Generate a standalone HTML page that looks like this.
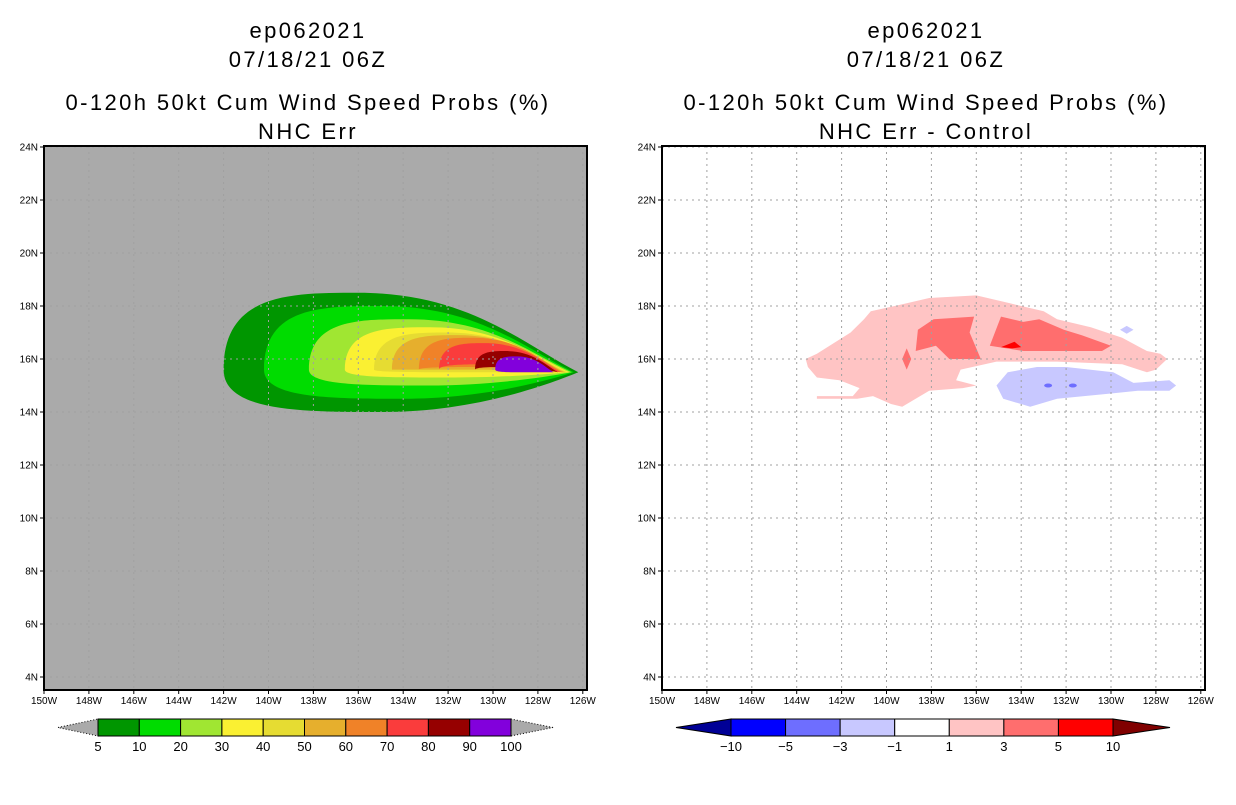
<!DOCTYPE html>
<html><head><meta charset="utf-8"><style>
body{margin:0;background:#fff;width:1236px;height:800px;overflow:hidden;font-family:"Liberation Sans",sans-serif}
svg text{font-family:"Liberation Sans",sans-serif}
</style></head><body>
<svg id="s" width="1236" height="800"></svg>
<script>
// ---- data ----
const probLevels=[5,10,20,30,40,50,60,70,80,90];
const probColors=['#009600','#00dc00','#a0e632','#faf032','#e6dc32','#e6af2d','#f08228','#fa3c3c','#960000','#8200dc'];
const probWestLon=[-142.0,-140.2,-138.2,-136.6,-135.3,-134.5,-133.3,-132.4,-130.8,-129.9];
const probEastLon=[-126.2,-126.4,-126.5,-126.6,-126.7,-126.8,-126.9,-127.0,-127.1,-127.3];
const probNorthLat=[18.5,18.0,17.5,17.2,17.0,16.9,16.8,16.6,16.3,16.1];
const probSouthLat=[14.0,14.5,15.0,15.3,15.5,15.6,15.7,15.8,15.7,15.5];
const tipLat=15.5;
const diffLevels=[-10,-5,-3,-1,1,3,5,10];
const diffColors=['#000096','#0000ff','#6e6eff','#c8c8ff','#ffffff','#ffc4c4','#ff6e6e','#ff0000','#800000'];
const pinkLon=[-143.6,-143.1,-141.6,-141.0,-140.7,-139.1,-138.1,-136.0,-134.5,-133.0,-132.4,-130.9,-129.5,-128.4,-127.8,-127.5,-128.0,-128.4,-129.5,-132.4,-135.1,-136.7,-136.9,-136.0,-136.6,-138.1,-139.3,-139.8,-140.6,-141.3,-143.1,-143.1,-141.5,-141.2,-142.1,-143.1,-143.5];
const pinkLat=[16.0,16.2,17.0,17.5,17.8,18.1,18.3,18.4,18.1,17.8,17.5,17.2,16.8,16.3,16.2,16.0,15.6,15.5,15.8,15.9,15.9,15.6,15.2,15.0,14.9,14.8,14.2,14.3,14.6,14.5,14.5,14.6,14.6,14.9,15.2,15.3,15.7];
const redALon=[-138.6,-137.9,-136.1,-136.3,-135.8,-137.2,-137.8,-138.7];
const redALat=[17.1,17.5,17.6,17.0,16.0,16.0,16.5,16.3];
const redDiamondLon=[-139.3,-139.1,-138.9,-139.1];
const redDiamondLat=[16.0,16.4,16.0,15.6];
const redBLon=[-134.9,-133.9,-133.2,-132.1,-131.3,-130.0,-130.4,-132.4,-133.9,-135.4];
const redBLat=[17.6,17.4,17.5,17.1,16.9,16.5,16.3,16.3,16.3,16.5];
const brightRedLon=[-134.9,-134.3,-134.0,-134.4];
const brightRedLat=[16.45,16.65,16.45,16.4];
const blueLon=[-135.1,-134.6,-133.3,-132.0,-129.9,-129.0,-127.4,-127.1,-127.4,-128.8,-130.0,-132.4,-133.6,-134.8];
const blueLat=[15.0,15.5,15.7,15.7,15.5,15.1,15.2,15.0,14.8,14.8,14.7,14.5,14.2,14.5];
const blueSmallLon=[-129.6,-129.3,-129.0,-129.3];
const blueSmallLat=[17.1,17.25,17.1,16.95];
const blueDotLon=[-132.8,-131.7];
const blueDotLat=[15.0,15.0];
const lonTicks=[-150,-148,-146,-144,-142,-140,-138,-136,-134,-132,-130,-128,-126];
const latTicks=[4,6,8,10,12,14,16,18,20,22,24];

const NS='http://www.w3.org/2000/svg';
const svg=document.getElementById('s');
function el(tag,attrs,parent){const e=document.createElementNS(NS,tag);for(const k in attrs)e.setAttribute(k,attrs[k]);(parent||svg).appendChild(e);return e;}
const PW=543,PT=146,PB=690;
function xs(x0){return lon=>x0+(lon+150)*22.45;}
function ys(lat){return 359+(16-lat)*26.5;}
function poly(g,X,lons,lats,fill){return el('polygon',{points:lons.map((l,i)=>X(l).toFixed(1)+','+ys(lats[i]).toFixed(1)).join(' '),fill:fill},g);}

function frame(x0,bg,name){
  const X=xs(x0);
  const g=el('g',{});
  
  
  el('rect',{x:x0,y:PT,width:PW,height:PB-PT,fill:bg},g);
  return {g,X};
}
function grid(p,x0){
  const gg=el('g',{},p.g);
  
  
  lonTicks.forEach(l=>{const x=p.X(l);if(x>x0+1&&x<x0+PW-1)el('line',{x1:x,x2:x,y1:PT,y2:PB,stroke:'#a0a0a0','stroke-dasharray':'2,4'},gg);});
  latTicks.forEach(l=>{const y=ys(l);el('line',{x1:x0,x2:x0+PW,y1:y,y2:y,stroke:'#a0a0a0','stroke-dasharray':'2,4'},gg);});
}
function axes(p,x0){
  el('rect',{x:x0,y:PT,width:PW,height:PB-PT,fill:'none',stroke:'#000','stroke-width':2},p.g);
  lonTicks.forEach(l=>{const x=p.X(l);el('line',{x1:x,x2:x,y1:PB,y2:PB+4,stroke:'#000'},p.g);
    const t=el('text',{x:x,y:PB+14,'font-size':10,'text-anchor':'middle'},p.g);t.textContent=(-l)+'W';
    
    });
  latTicks.forEach(l=>{const y=ys(l);el('line',{x1:x0-4,x2:x0,y1:y,y2:y,stroke:'#000'},p.g);
    const t=el('text',{x:x0-6,y:y+3.5,'font-size':10,'text-anchor':'end'},p.g);t.textContent=l+'N';
    
    });
}
function titles(cx,lines){
  const ys_=[38,67,110,139];
  lines.forEach((s,i)=>{const t=el('text',{x:cx,y:ys_[i],'font-size':22,'text-anchor':'middle','letter-spacing':'2.4'});t.textContent=s;
    
    });
}
// left panel
const L=frame(44,'#aaaaaa','left-map-panel');
probLevels.forEach((lv,i)=>{
  const X=L.X;const w=X(probWestLon[i]),e=X(probEastLon[i]);
  const n=ys(probNorthLat[i]),s=ys(probSouthLat[i]),c=ys(15.6),t=ys(tipLat);
  const d=w+(e-w)*0.38,q=w+(e-w)*0.45;
  const path=`M${w},${c} C${w},${n} ${d-(d-w)*0.5},${n} ${d},${n} C${d+(e-d)*0.5},${n} ${e-(e-d)*0.25},${t-(t-n)*0.35} ${e},${t} C${e-(e-q)*0.25},${t+(s-t)*0.5} ${q+(e-q)*0.4},${s} ${q},${s} C${q-(q-w)*0.5},${s} ${w},${s} ${w},${c} Z`;
  const p=el('path',{d:path,fill:probColors[i]},L.g);
  
  
});
grid(L,44);axes(L,44);
titles(308,['ep062021','07/18/21 06Z','0-120h 50kt Cum Wind Speed Probs (%)','NHC Err']);
// right panel
const R=frame(662,'#ffffff','right-map-panel');
[[pinkLon,pinkLat,diffColors[5],'diff-1-3'],[redALon,redALat,diffColors[6],'diff-3-5-west'],[redDiamondLon,redDiamondLat,diffColors[6],'diff-3-5-small'],
 [redBLon,redBLat,diffColors[6],'diff-3-5-east'],[brightRedLon,brightRedLat,diffColors[7],'diff-5-10'],
 [blueLon,blueLat,diffColors[3],'diff-neg-1-3'],[blueSmallLon,blueSmallLat,diffColors[3],'diff-neg-small']].forEach(a=>{
  const p=poly(R.g,R.X,a[0],a[1],a[2]);
  
  
});
blueDotLon.forEach((l,i)=>{const p=el('ellipse',{cx:R.X(l),cy:ys(blueDotLat[i]),rx:4,ry:2,fill:diffColors[2]},R.g);
  
  });
grid(R,662);axes(R,662);
titles(926,['ep062021','07/18/21 06Z','0-120h 50kt Cum Wind Speed Probs (%)','NHC Err - Control']);
// colorbars
function colorbar(x0,x1,lt,rt,colors,labels,leftTri,rightTri,name){
  const g=el('g',{});
  
  
  const y0=719,y1=736,ym=727.5;
  const inner=leftTri?colors.slice(1,-1):colors;
  el('polygon',{points:`${lt},${ym} ${x0},${y0} ${x0},${y1}`,fill:leftTri||'#aaaaaa',stroke:'#000','stroke-dasharray':leftTri?'none':'1,2'},g);
  el('polygon',{points:`${rt},${ym} ${x1},${y0} ${x1},${y1}`,fill:rightTri||'#aaaaaa',stroke:'#000','stroke-dasharray':rightTri?'none':'1,2'},g);
  const w=(x1-x0)/inner.length;
  inner.forEach((c,i)=>el('rect',{x:x0+i*w,y:y0,width:w,height:y1-y0,fill:c,stroke:'#000'},g));
  labels.forEach((lb,i)=>{const t=el('text',{x:x0+i*w,y:751,'font-size':13,'text-anchor':'middle'},g);t.textContent=lb;
    
    });
}
colorbar(98,511,58,553,probColors,[5,10,20,30,40,50,60,70,80,90,100],null,null,'prob-colorbar');
colorbar(731,1113,676,1170,diffColors,[-10,-5,-3,-1,1,3,5,10].map(v=>v<0?'\u2212'+(-v):v),diffColors[0],diffColors[8],'diff-colorbar');
</script>
</body></html>
